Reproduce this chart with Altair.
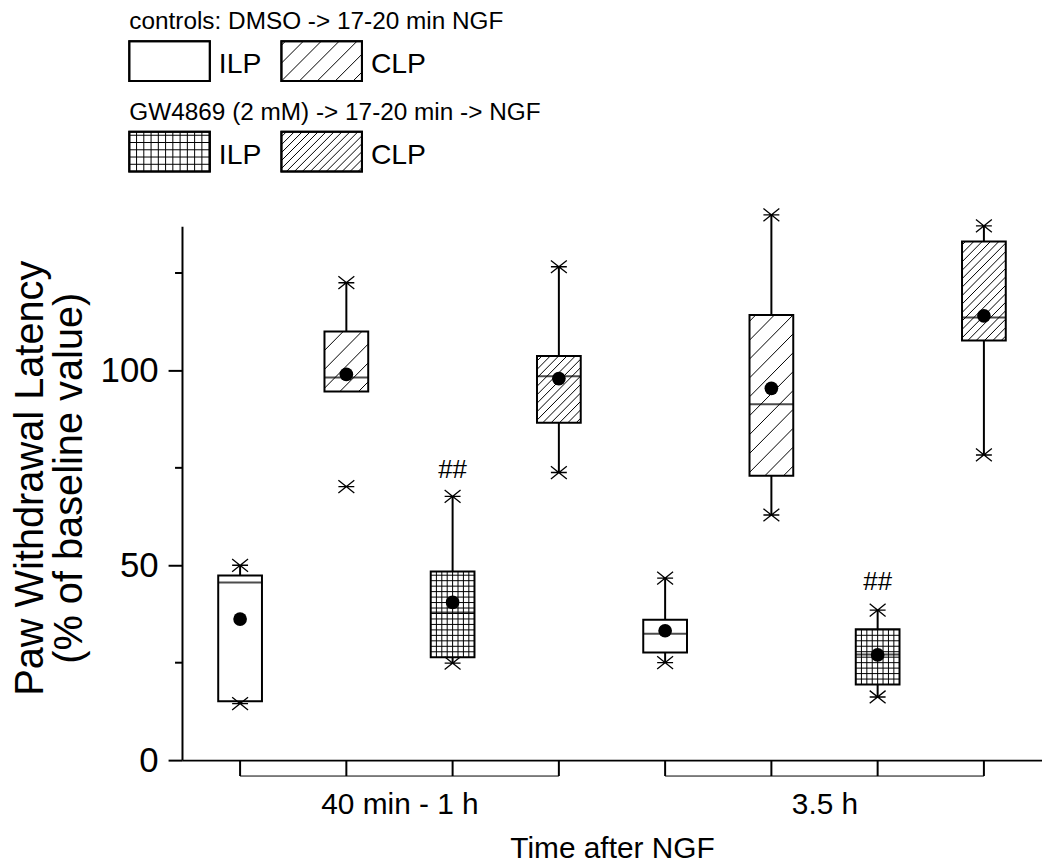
import altair as alt
import pandas as pd

# ---------------- data ----------------
positions = [1, 2, 3, 4, 5, 6, 7, 8]
times = ["40 min - 1 h"] * 4 + ["3.5 h"] * 4
treatments = ["control ILP", "control CLP", "GW4869 ILP", "GW4869 CLP"] * 2
q1_vals = [15.1, 94.6, 26.4, 86.6, 27.6, 73.0, 19.4, 107.7]
median_vals = [45.6, 98.2, 37.9, 98.5, 32.4, 91.3, 27.1, 113.6]
q3_vals = [47.4, 110.0, 48.4, 103.7, 36.0, 114.2, 33.6, 133.1]
min_vals = [14.5, 70.2, 24.9, 73.8, 25.0, 62.9, 16.2, 78.3]
max_vals = [50.0, 122.5, 67.7, 126.6, 46.7, 139.9, 38.5, 137.1]
min_is_outlier = [False, True, False, False, False, False, False, False]
mean_vals = [36.2, 99.0, 40.5, 97.9, 33.2, 95.4, 27.0, 114.0]
sig_positions = [3, 7]
sig_values = [74.5, 45.7]
sig_labels = ["##", "##"]
group_labels = ["40 min - 1 h", "3.5 h"]
group_start = [1, 5]
group_end = [4, 8]
minor_ticks = [25, 75, 125]

# ---------------- layout / style ----------------
W, H = 865, 537
X_DOM = [0.5, 8.5]
Y_DOM = [0, 137]
PX_X = W / (X_DOM[1] - X_DOM[0])
PX_Y = H / (Y_DOM[1] - Y_DOM[0])
BOX_W = 44
FONT = "Liberation Sans"
patterns = {
    "control ILP": None,
    "control CLP": ("diag", 19.0),
    "GW4869 ILP": ("grid", 5.5),
    "GW4869 CLP": ("diag", 8.5),
}


def hatch(w, h, kind, s):
    """segments in a y-up pixel frame with origin at rect's bottom-left"""
    segs = []
    if kind == "diag":
        c = -w + s / 2
        while c < h:
            xa = max(0.0, -c)
            xb = min(w, h - c)
            if xb > xa:
                segs.append((xa, xa + c, xb, xb + c))
            c += s
    elif kind == "grid":
        x = s
        while x < w - 0.5:
            segs.append((x, 0, x, h))
            x += s
        y = s
        while y < h - 0.5:
            segs.append((0, y, w, y))
            y += s
    return segs


box_df = pd.DataFrame({
    "pos": positions, "time": times, "treatment": treatments,
    "q1": q1_vals, "median": median_vals, "q3": q3_vals,
    "min": min_vals, "max": max_vals, "mean": mean_vals,
})
box_df["wlo"] = [q if o else m for q, m, o in zip(q1_vals, min_vals, min_is_outlier)]

star_df = pd.DataFrame({
    "pos": positions * 2,
    "v": min_vals + max_vals,
})

rows = []
for p, t, lo, hi in zip(positions, treatments, q1_vals, q3_vals):
    pat = patterns[t]
    if pat is None:
        continue
    h = (hi - lo) * PX_Y
    x0 = p - (BOX_W / 2) / PX_X
    for X1, Y1, X2, Y2 in hatch(BOX_W, h, pat[0], pat[1]):
        rows.append({"x1": x0 + X1 / PX_X, "x2": x0 + X2 / PX_X,
                     "y1": lo + Y1 / PX_Y, "y2": lo + Y2 / PX_Y})
hatch_df = pd.DataFrame(rows)

sig_df = pd.DataFrame({"pos": sig_positions, "v": sig_values, "t": sig_labels})
grp_df = pd.DataFrame({"label": group_labels, "start": group_start, "end": group_end})
minor_df = pd.DataFrame({"v": minor_ticks})

# legend geometry (pixels relative to plot origin)
leg_boxes = pd.DataFrame({
    "treatment": ["control ILP", "control CLP", "GW4869 ILP", "GW4869 CLP"],
    "x": [-53, 100, -53, 100], "y": [-186, -186, -95, -95],
})
leg_boxes["x2"] = leg_boxes["x"] + 81
leg_boxes["y2"] = leg_boxes["y"] + 40
lrows = []
for _, r in leg_boxes.iterrows():
    pat = patterns[r["treatment"]]
    if pat is None:
        continue
    s = 18.0 if pat == ("diag", 19.0) else (8.0 if pat[0] == "diag" else 7.3)
    for X1, Y1, X2, Y2 in hatch(81, 40, pat[0], s):
        lrows.append({"x1": r["x"] + X1, "x2": r["x"] + X2,
                      "y1": r["y2"] - Y1, "y2": r["y2"] - Y2})
leg_hatch = pd.DataFrame(lrows)
leg_head = pd.DataFrame({"x": [-53, -53], "y": [-198, -107],
                         "t": ["controls: DMSO -> 17-20 min NGF",
                               "GW4869 (2 mM) -> 17-20 min -> NGF"]})
leg_lab = pd.DataFrame({"x": [37, 190, 37, 190], "y": [-154, -154, -63, -63],
                        "t": ["ILP", "CLP", "ILP", "CLP"]})

# ---------------- encodings ----------------
xs = alt.Scale(domain=X_DOM, nice=False, zero=False)
ys = alt.Scale(domain=Y_DOM, nice=False, zero=False)
xaxis = alt.Axis(values=[2.5, 6.5],
                 labelExpr="datum.value < 4 ? '40 min - 1 h' : '3.5 h'",
                 ticks=False, grid=False, domainColor="black", domainWidth=2,
                 labelFontSize=30, labelPadding=30, labelColor="black", labelFont=FONT,
                 title="Time after NGF", titleFontSize=30, titleFontWeight="normal",
                 titleFont=FONT, titleColor="black", titlePadding=14)
yaxis = alt.Axis(values=[0, 50, 100], tickSize=14, tickWidth=2, tickColor="black",
                 grid=False, domainColor="black", domainWidth=2,
                 labelFontSize=35, labelPadding=10, labelColor="black", labelFont=FONT,
                 title=["Paw Withdrawal Latency", "(% of baseline value)"],
                 titleFontSize=40, titleFontWeight="normal", titleFont=FONT,
                 titleColor="black", titlePadding=11, titleLineHeight=39,
                 titleY=253)


def X(f):
    return alt.X(f, type="quantitative", scale=xs, axis=xaxis)


def Y(f):
    return alt.Y(f, type="quantitative", scale=ys, axis=yaxis)


base = alt.Chart(box_df)
wh_hi = base.mark_rule(color="black", strokeWidth=2).encode(x=X("pos"), y=Y("q3"), y2="max:Q")
wh_lo = base.mark_rule(color="black", strokeWidth=2).encode(x=X("pos"), y=Y("wlo"), y2="q1:Q")
box_fill = base.mark_bar(size=BOX_W, color="white").encode(x=X("pos"), y=Y("q1"), y2="q3:Q")
hatch_l = alt.Chart(hatch_df).mark_rule(color="black", strokeWidth=1).encode(
    x=X("x1"), x2="x2:Q", y=Y("y1"), y2="y2:Q")
box_out = base.mark_bar(size=BOX_W, fill=None, fillOpacity=0, stroke="black",
                        strokeWidth=2).encode(x=X("pos"), y=Y("q1"), y2="q3:Q")
med = base.mark_tick(size=BOX_W, thickness=2, color="black", orient="horizontal").encode(
    x=X("pos"), y=Y("median"))
star_shape = "M-1,-0.8L1,0.8M-1,0.8L1,-0.8M-1,0L1,0"
stars = alt.Chart(star_df).mark_point(shape=star_shape, size=256, filled=False,
                                      stroke="black", strokeWidth=1.3, opacity=1).encode(
    x=X("pos"), y=Y("v"))
means = base.mark_circle(size=190, color="black", opacity=1).encode(x=X("pos"), y=Y("mean"))
sig = alt.Chart(sig_df).mark_text(fontSize=26, font=FONT, color="black",
                                  baseline="middle").encode(x=X("pos"), y=Y("v"), text="t:N")
minor = alt.Chart(minor_df).mark_rule(color="black", strokeWidth=2).encode(
    y=Y("v"), x=alt.value(-7), x2=alt.value(0))
br_v = base.mark_rule(color="black", strokeWidth=2).encode(
    x=X("pos"), y=alt.value(H), y2=alt.value(H + 16))
br_h = alt.Chart(grp_df).mark_rule(color="black", strokeWidth=1).encode(
    x=X("start"), x2="end:Q", y=alt.value(H + 16))

# legend
lb_fill = alt.Chart(leg_boxes).mark_rect(fill="white", stroke="black", strokeWidth=2).encode(
    x=alt.X("x:Q", scale=None), x2="x2:Q", y=alt.Y("y:Q", scale=None), y2="y2:Q")
lb_hatch = alt.Chart(leg_hatch).mark_rule(color="black", strokeWidth=1).encode(
    x=alt.X("x1:Q", scale=None), x2="x2:Q", y=alt.Y("y1:Q", scale=None), y2="y2:Q")
lb_out = alt.Chart(leg_boxes).mark_rect(fill=None, fillOpacity=0, stroke="black",
                                        strokeWidth=2).encode(
    x=alt.X("x:Q", scale=None), x2="x2:Q", y=alt.Y("y:Q", scale=None), y2="y2:Q")
lh = alt.Chart(leg_head).mark_text(fontSize=24.5, font=FONT, color="black", align="left",
                                   baseline="alphabetic").encode(
    x=alt.X("x:Q", scale=None), y=alt.Y("y:Q", scale=None), text="t:N")
ll = alt.Chart(leg_lab).mark_text(fontSize=28.5, font=FONT, color="black", align="left",
                                  baseline="alphabetic").encode(
    x=alt.X("x:Q", scale=None), y=alt.Y("y:Q", scale=None), text="t:N")

chart = alt.layer(
    wh_hi, wh_lo, box_fill, hatch_l, box_out, med, stars, means, sig, minor, br_v, br_h,
    lb_fill, lb_hatch, lb_out, lh, ll
).properties(
    width=W, height=H,
    autosize=alt.AutoSizeParams(type="none"),
    padding={"left": 175, "top": 217, "right": 0, "bottom": 104},
    background="white",
).configure_view(stroke=None)

chart.save("out.html", embed_options={"renderer": "svg", "actions": False})
